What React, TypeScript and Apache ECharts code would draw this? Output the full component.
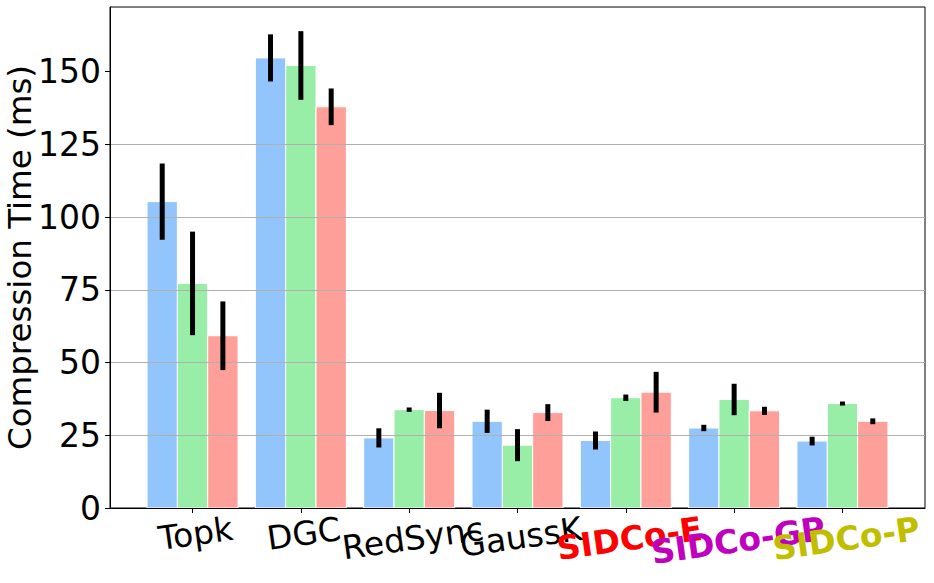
import React, { useEffect, useRef } from "react";
import * as echarts from "echarts";

const categories = ["Topk", "DGC", "RedSync", "GaussK", "SIDCo-E", "SIDCo-GP", "SIDCo-P"];
const labelColors = ["#000000", "#000000", "#000000", "#000000", "#ff0000", "#bf00bf", "#bfbf00"];
const labelBold = [false, false, false, false, true, true, true];

const seriesNames = ["Run A", "Run B", "Run C"];
const blueMean = [105.3, 154.7, 24.1, 29.8, 23.2, 27.5, 23.0];
const greenMean = [77.2, 152.1, 33.8, 21.6, 37.9, 37.3, 35.9];
const redMean = [59.2, 137.9, 33.5, 32.8, 39.8, 33.4, 29.8];
const blueErr = [13.1, 8.1, 3.3, 4.0, 3.1, 1.1, 1.5];
const greenErr = [17.8, 11.8, 0.75, 5.5, 1.1, 5.4, 0.7];
const redErr = [11.8, 6.3, 6.1, 2.9, 7.0, 1.4, 1.0];

const yTicks = [0, 25, 50, 75, 100, 125, 150];
const xTicks = [0, 1, 2, 3, 4, 5, 6];
const X_MIN = -0.762;
const X_MAX = 6.762;

const means = [blueMean, greenMean, redMean];
const errs = [blueErr, greenErr, redErr];
const colors = ["#93c5fd", "#98eea6", "#ff9f9a"];
const offsets = [-0.28, 0, 0.28];
const BAR_W = 0.28;
const FONT = "'DejaVu Sans', sans-serif";
const LABEL_FS = 33;
const ROT = 8;

function measure(text: string, bold: boolean): number {
  const cv = document.createElement("canvas");
  const ctx = cv.getContext("2d");
  if (!ctx) return text.length * LABEL_FS * 0.62;
  ctx.font = `${bold ? "bold " : ""}${LABEL_FS}px 'DejaVu Sans'`;
  return ctx.measureText(text).width;
}

export default function App() {
  const ref = useRef<HTMLDivElement>(null);
  useEffect(() => {
    if (!ref.current) return;
    const chart = echarts.init(ref.current, undefined, { renderer: "svg" });
    const sinR = Math.sin((ROT * Math.PI) / 180);
    const rich: Record<string, any> = {};
    categories.forEach((c, i) => {
      const width = measure(c, labelBold[i]);
      rich["c" + i] = {
        color: labelColors[i],
        fontWeight: labelBold[i] ? "bold" : "normal",
        fontSize: LABEL_FS,
        fontFamily: FONT,
        padding: [(width / 2) * sinR, 0, 0, 0],
      };
    });

    const barSeries = means.map((m, s) => ({
      type: "custom",
      name: seriesNames[s],
      z: 1,
      data: m.map((v, i) => [i + offsets[s], v]),
      encode: { x: 0, y: 1 },
      renderItem: (params: any, api: any) => {
        const x = api.value(0);
        const v = api.value(1);
        const p0 = api.coord([x - BAR_W / 2, v]);
        const p1 = api.coord([x + BAR_W / 2, 0]);
        return {
          type: "rect",
          shape: { x: p0[0], y: p0[1], width: p1[0] - p0[0], height: p1[1] - p0[1] },
          style: { fill: colors[s], stroke: "#ffffff", lineWidth: 1 },
        };
      },
    }));

    const errSeries = means.map((m, s) => ({
      type: "custom",
      name: seriesNames[s] + " error",
      z: 20,
      data: m.map((v, i) => [i + offsets[s], v - errs[s][i], v + errs[s][i]]),
      encode: { x: 0, y: [1, 2] },
      renderItem: (params: any, api: any) => {
        const x = api.value(0);
        const lo = api.coord([x, api.value(1)]);
        const hi = api.coord([x, api.value(2)]);
        return {
          type: "line",
          shape: { x1: lo[0], y1: lo[1], x2: hi[0], y2: hi[1] },
          style: { stroke: "#000000", lineWidth: 5, lineCap: "butt" },
        };
      },
    }));

    chart.setOption({
      animation: false,
      backgroundColor: "#ffffff",
      grid: {
        left: 110,
        right: 9,
        top: 7,
        bottom: 75,
        outerBoundsMode: "none",
        containLabel: false,
        show: true,
        borderColor: "#000000",
        borderWidth: 1,
        backgroundColor: "transparent",
      },
      xAxis: {
        type: "value",
        min: X_MIN,
        max: X_MAX,
        z: 10,
        splitLine: { show: false },
        axisLine: { show: true, onZero: false, lineStyle: { color: "#000000", width: 1 } },
        axisTick: { show: true, length: 5, lineStyle: { color: "#000000" }, customValues: xTicks },
        axisLabel: {
          customValues: [...xTicks, X_MAX],
          rotate: ROT,
          align: "center",
          verticalAlign: "top",
          margin: 4,
          hideOverlap: false,
          showMinLabel: true,
          showMaxLabel: true,
          formatter: (v: number) => {
            const i = Math.round(v);
            if (Math.abs(v - i) > 1e-6 || !categories[i]) return "";
            return `{c${i}|${categories[i]}}`;
          },
          rich,
        },
      },
      yAxis: {
        type: "value",
        min: 0,
        max: 172.2,
        interval: 25,
        z: 10,
        name: "Compression Time (ms)",
        nameLocation: "middle",
        nameGap: 74,
        nameMoveOverlap: false,
        nameRotate: 90,
        nameTextStyle: { fontSize: 32.5, fontFamily: FONT, color: "#000000" },
        axisLine: { show: true, onZero: false, lineStyle: { color: "#000000", width: 1 } },
        axisTick: { show: true, length: 5, lineStyle: { color: "#000000" }, customValues: yTicks },
        axisLabel: {
          customValues: yTicks,
          fontSize: 33,
          fontFamily: FONT,
          color: "#000000",
          margin: 9,
          showMinLabel: true,
          showMaxLabel: true,
        },
        splitLine: {
          show: true,
          showMinLine: false,
          showMaxLine: false,
          lineStyle: { color: "#b0b0b0", width: 1 },
        },
      },
      series: [...barSeries, ...errSeries],
    });
    return () => chart.dispose();
  }, []);
  return (
    <div
      ref={ref}
      style={{ position: "absolute", left: 0, top: 0, width: 934, height: 583 }}
    />
  );
}
